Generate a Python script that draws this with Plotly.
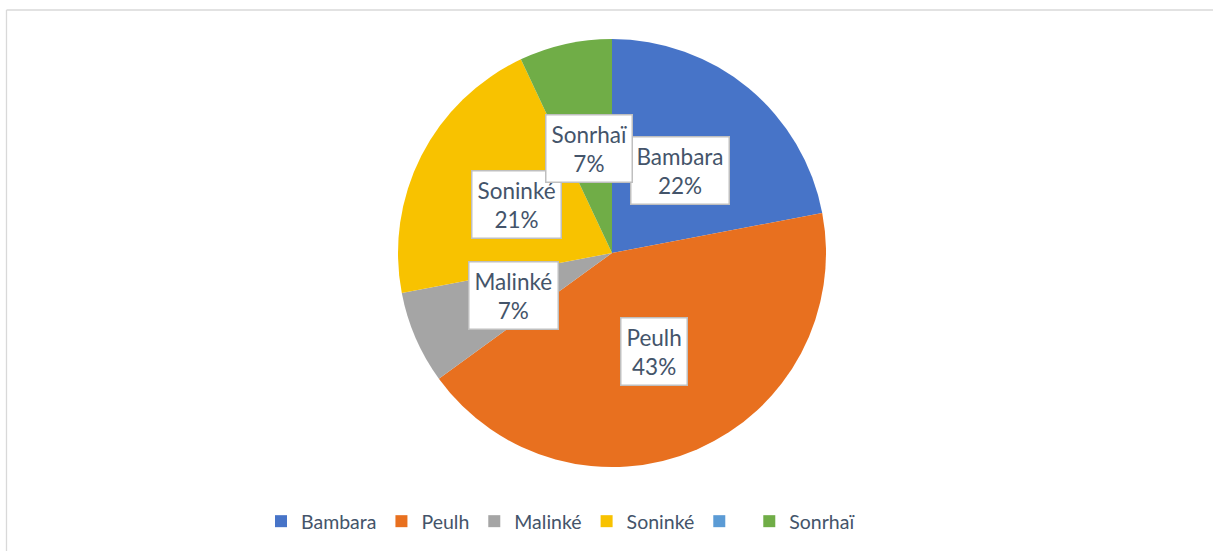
import math
import plotly.graph_objects as go

labels = ["Bambara", "Peulh", "Malinké", "Soninké", " ", "Sonrhaï"]
values = [22, 43, 7, 21, 0, 7]
colors = ["#4774C8", "#E8701F", "#A5A5A5", "#F8C200", "#5B9BD5", "#70AD47"]

W, H = 1213, 551
ML, MR, MT, MB = 11, 0, 39, 84
PW, PH = W - ML - MR, H - MT - MB
R = min(PW, PH) / 2

fig = go.Figure(go.Pie(
    labels=labels, values=values, sort=False, direction="clockwise", rotation=0,
    marker=dict(colors=colors, line=dict(width=0)),
    textinfo="none", hoverinfo="label+percent",
))

total = sum(values)
cum = 0.0
annotations = []
for lab, v in zip(labels, values):
    if v > 0:
        mid = (cum + v / 2) / total * 2 * math.pi
        dx = 0.5 * R * math.sin(mid)
        dy = 0.5 * R * math.cos(mid)
        annotations.append(dict(
            x=0.5 + dx / PW, y=0.5 + dy / PH, xref="paper", yref="paper",
            text=f"{lab}<br>{round(v / total * 100)}%", showarrow=False,
            font=dict(family="Lato", size=22.5, color="#44546A"),
            bgcolor="white", bordercolor="#BFBFBF", borderwidth=1.5, borderpad=5,
            xanchor="center", yanchor="middle",
        ))
    cum += v

def px_x(p):
    return (p - ML) / PW

def px_y(p):
    return (H - MB - p) / PH

fig.update_layout(
    width=W, height=H, autosize=False,
    margin=dict(l=ML, r=MR, t=MT, b=MB),
    paper_bgcolor="white", plot_bgcolor="white",
    showlegend=True,
    legend=dict(orientation="h", x=px_x(561), xanchor="center", y=px_y(502), yanchor="top",
                font=dict(family="Lato", size=19.5, color="#44546A"),
                itemwidth=30, traceorder="normal"),
    annotations=annotations,
    shapes=[
        dict(type="line", xref="paper", yref="paper",
             x0=px_x(6.5), x1=px_x(1215), y0=px_y(10), y1=px_y(10),
             line=dict(color="#D9D9D9", width=1.3)),
        dict(type="line", xref="paper", yref="paper",
             x0=px_x(6.5), x1=px_x(6.5), y0=px_y(10), y1=px_y(560),
             line=dict(color="#D9D9D9", width=1.3)),
    ],
)

fig.write_html("out.html", config={"displayModeBar": False},
               post_script="document.body.style.margin='0';document.body.style.overflow='hidden';")
